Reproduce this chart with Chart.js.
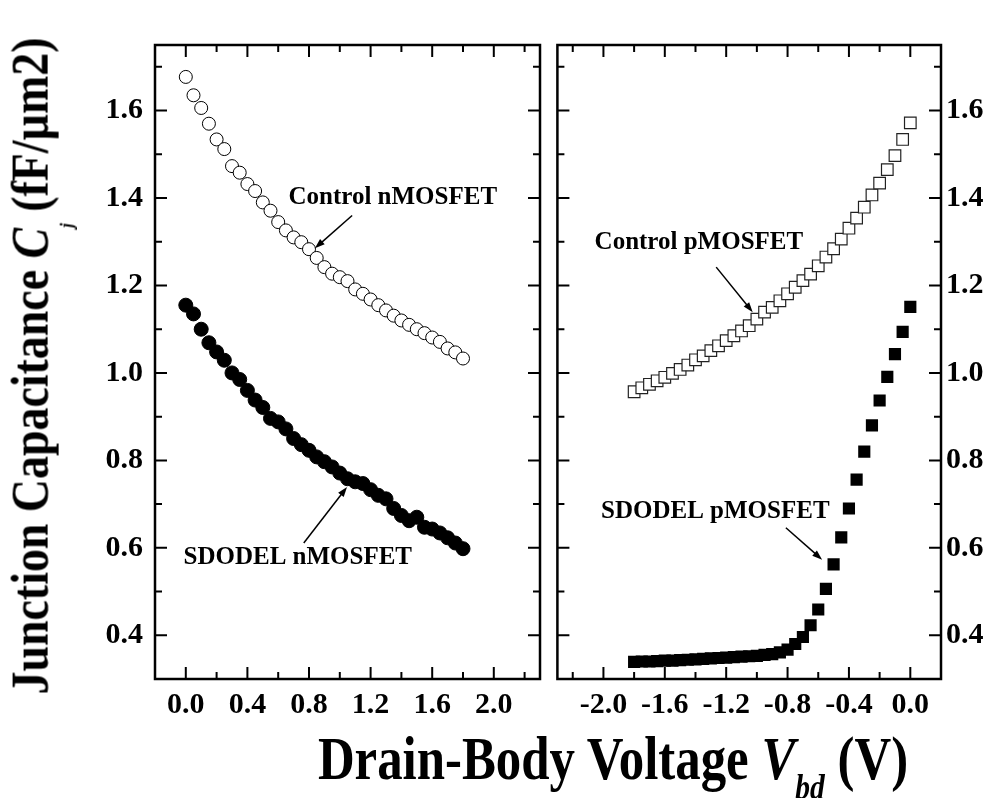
<!DOCTYPE html>
<html>
<head>
<meta charset="utf-8">
<script src="https://cdn.jsdelivr.net/npm/chart.js@4.4.1/dist/chart.umd.min.js"></script>
<style>
body { margin: 0; background: #fff; }
#wrap { position: relative; width: 1001px; height: 798px; overflow: hidden; }
canvas { position: absolute; top: 0; }
#nChart { left: 0; }
#pChart { left: 548px; }
.ttl { position: absolute; font-family: "Liberation Serif", "Times New Roman", serif; font-weight: bold; white-space: nowrap; line-height: 1; color: #000; }
#yTitle { font-size: 53px; left: 35px; top: 366px; transform: translate(-50%, -50%) rotate(-90deg) scaleX(0.866); }
#xTitle { font-size: 62px; left: 613px; top: 727px; transform: translate(-50%, 0) scaleX(0.82); }
#yTitle sub { font-size: 0.36em; vertical-align: -1.3em; line-height: 0; }
#xTitle sub { font-size: 0.58em; vertical-align: -0.55em; line-height: 0; }
</style>
</head>
<body>
<div id="wrap">
  <canvas id="nChart" width="548" height="798"></canvas>
  <canvas id="pChart" width="453" height="798"></canvas>
  <div class="ttl" id="yTitle">Junction Capacitance <i>C</i><sub><i>j</i></sub> (fF/µm2)</div>
  <div class="ttl" id="xTitle">Drain-Body Voltage <i>V</i><sub><i>bd</i></sub> (V)</div>
</div>
<script>
// drain-body voltage sweep (V)
const nVbd = [0.00, 0.05, 0.10, 0.15, 0.20, 0.25, 0.30, 0.35, 0.40, 0.45, 0.50, 0.55, 0.60,
              0.65, 0.70, 0.75, 0.80, 0.85, 0.90, 0.95, 1.00, 1.05, 1.10, 1.15, 1.20, 1.25,
              1.30, 1.35, 1.40, 1.45, 1.50, 1.55, 1.60, 1.65, 1.70, 1.75, 1.80];
const pVbd = [-1.80, -1.75, -1.70, -1.65, -1.60, -1.55, -1.50, -1.45, -1.40, -1.35, -1.30, -1.25, -1.20,
              -1.15, -1.10, -1.05, -1.00, -0.95, -0.90, -0.85, -0.80, -0.75, -0.70, -0.65, -0.60, -0.55,
              -0.50, -0.45, -0.40, -0.35, -0.30, -0.25, -0.20, -0.15, -0.10, -0.05, 0.00];

// junction capacitance (fF/um2)
const ctrlN = [1.677, 1.635, 1.606, 1.570, 1.534, 1.512, 1.473, 1.458, 1.432, 1.416, 1.390, 1.371, 1.345,
               1.326, 1.310, 1.299, 1.283, 1.263, 1.242, 1.227, 1.219, 1.210, 1.191, 1.181, 1.168, 1.155,
               1.143, 1.131, 1.120, 1.110, 1.100, 1.091, 1.081, 1.071, 1.056, 1.047, 1.033];
const sdodelN = [1.155, 1.135, 1.100, 1.069, 1.048, 1.029, 1.000, 0.985, 0.960, 0.938, 0.921, 0.896, 0.888,
                 0.872, 0.850, 0.836, 0.823, 0.808, 0.797, 0.785, 0.771, 0.758, 0.751, 0.747, 0.733, 0.720,
                 0.712, 0.690, 0.674, 0.662, 0.670, 0.647, 0.643, 0.634, 0.623, 0.611, 0.598];
const ctrlP = [0.957, 0.966, 0.974, 0.982, 0.990, 0.999, 1.008, 1.018, 1.030, 1.039, 1.051, 1.062, 1.074,
               1.085, 1.096, 1.108, 1.123, 1.139, 1.150, 1.165, 1.181, 1.196, 1.211, 1.226, 1.245, 1.265,
               1.284, 1.306, 1.331, 1.354, 1.379, 1.407, 1.434, 1.465, 1.497, 1.534, 1.572];
const sdodelP = [0.339, 0.340, 0.340, 0.341, 0.342, 0.342, 0.343, 0.344, 0.345, 0.346, 0.347, 0.348, 0.349,
                 0.350, 0.351, 0.352, 0.353, 0.355, 0.357, 0.361, 0.367, 0.380, 0.396, 0.423, 0.459, 0.506,
                 0.562, 0.624, 0.690, 0.756, 0.820, 0.880, 0.937, 0.991, 1.043, 1.094, 1.151];

// tick labels
const capTicks = [0.4, 0.6, 0.8, 1.0, 1.2, 1.4, 1.6];
const capMinor = [0.5, 0.7, 0.9, 1.1, 1.3, 1.5, 1.7];
const nTicks = [0.0, 0.4, 0.8, 1.2, 1.6, 2.0];
const nMinor = [0.2, 0.6, 1.0, 1.4, 1.8, 2.2];
const pTicks = [-2.0, -1.6, -1.2, -0.8, -0.4, 0.0];
const pMinor = [-2.2, -1.8, -1.4, -1.0, -0.6, -0.2];

const serif = '"Liberation Serif", "Times New Roman", serif';
const tickFont = { family: serif, size: 30, weight: 'bold' };

function pts(xs, ys) {
    return xs.map((v, i) => ({ x: v, y: ys[i] }));
}

// frame, inward ticks on all sides, and the arrow labels
const framePlugin = {
    id: 'frame',
    afterDatasetsDraw(chart, args, opts) {
        const ctx = chart.ctx;
        const a = chart.chartArea;
        const x = chart.scales.x, y = chart.scales.y;
        ctx.save();
        ctx.strokeStyle = '#000';
        ctx.lineWidth = 2;
        ctx.beginPath();
        const xt = (vals, len) => vals.forEach(v => {
            const px = x.getPixelForValue(v);
            ctx.moveTo(px, a.bottom); ctx.lineTo(px, a.bottom - len);
            ctx.moveTo(px, a.top); ctx.lineTo(px, a.top + len);
        });
        const yt = (vals, len) => vals.forEach(v => {
            const py = y.getPixelForValue(v);
            ctx.moveTo(a.left, py); ctx.lineTo(a.left + len, py);
            ctx.moveTo(a.right, py); ctx.lineTo(a.right - len, py);
        });
        xt(opts.xMajor, 12); xt(opts.xMinor, 7);
        yt(capTicks, 12); yt(capMinor, 7);
        ctx.stroke();
        ctx.lineWidth = 2.5;
        ctx.strokeRect(a.left, a.top, a.right - a.left, a.bottom - a.top);

        ctx.fillStyle = '#000';
        ctx.font = 'bold 25px ' + serif;
        ctx.textAlign = 'center';
        ctx.textBaseline = 'middle';
        opts.notes.forEach(n => {
            ctx.fillText(n.text, x.getPixelForValue(n.at[0]), y.getPixelForValue(n.at[1]));
            const x0 = x.getPixelForValue(n.from[0]), y0 = y.getPixelForValue(n.from[1]);
            const x1 = x.getPixelForValue(n.to[0]), y1 = y.getPixelForValue(n.to[1]);
            const ang = Math.atan2(y1 - y0, x1 - x0);
            ctx.lineWidth = 1.5;
            ctx.beginPath();
            ctx.moveTo(x0, y0);
            ctx.lineTo(x1 - 6 * Math.cos(ang), y1 - 6 * Math.sin(ang));
            ctx.stroke();
            ctx.beginPath();
            ctx.moveTo(x1, y1);
            ctx.lineTo(x1 - 10 * Math.cos(ang) + 3.5 * Math.sin(ang), y1 - 10 * Math.sin(ang) - 3.5 * Math.cos(ang));
            ctx.lineTo(x1 - 10 * Math.cos(ang) - 3.5 * Math.sin(ang), y1 - 10 * Math.sin(ang) + 3.5 * Math.cos(ang));
            ctx.closePath();
            ctx.fill();
        });
        ctx.restore();
    }
};

function axisX(min, max, ticks) {
    return {
        type: 'linear', min: min, max: max,
        afterBuildTicks: s => { s.ticks = ticks.map(v => ({ value: v })); },
        afterFit: s => { s.height = 119; },
        grid: { display: false, drawTicks: false },
        border: { display: false },
        ticks: { font: tickFont, color: '#000', padding: 8, maxRotation: 0, autoSkip: false,
                 callback: v => v.toFixed(1) }
    };
}

function axisY(pos, width, pad) {
    return {
        type: 'linear', position: pos, min: 0.3, max: 1.75,
        afterBuildTicks: s => { s.ticks = capTicks.map(v => ({ value: v })); },
        afterFit: s => { s.width = width; },
        grid: { display: false, drawTicks: false },
        border: { display: false },
        ticks: { font: tickFont, color: '#000', padding: pad, autoSkip: false,
                 callback: v => v.toFixed(1) }
    };
}

new Chart(document.getElementById('nChart'), {
    type: 'scatter',
    data: {
        datasets: [
            { label: 'Control nMOSFET', data: pts(nVbd, ctrlN), pointStyle: 'circle', pointRadius: 6.5,
              backgroundColor: '#fff', borderColor: '#000', borderWidth: 1 },
            { label: 'SDODEL nMOSFET', data: pts(nVbd, sdodelN), pointStyle: 'circle', pointRadius: 7,
              backgroundColor: '#000', borderColor: '#000', borderWidth: 1 }
        ]
    },
    options: {
        responsive: false,
        animation: false,
        layout: { padding: { top: 45, right: 7, left: 0, bottom: 0 } },
        plugins: {
            legend: { display: false },
            tooltip: { enabled: false },
            frame: {
                xMajor: nTicks, xMinor: nMinor,
                notes: [
                    { text: 'Control nMOSFET', at: [1.344, 1.400], from: [1.08, 1.36], to: [0.838, 1.285] },
                    { text: 'SDODEL nMOSFET', at: [0.727, 0.577], from: [0.766, 0.611], to: [1.047, 0.739] }
                ]
            }
        },
        scales: { x: axisX(-0.2, 2.3, nTicks), y: axisY('left', 155, 12) }
    },
    plugins: [framePlugin]
});

new Chart(document.getElementById('pChart'), {
    type: 'scatter',
    data: {
        datasets: [
            { label: 'Control pMOSFET', data: pts(pVbd, ctrlP), pointStyle: 'rect', pointRadius: 8.2,
              backgroundColor: '#fff', borderColor: '#222', borderWidth: 1.2 },
            { label: 'SDODEL pMOSFET', data: pts(pVbd, sdodelP), pointStyle: 'rect', pointRadius: 8.6,
              backgroundColor: '#000', borderColor: '#000', borderWidth: 0 }
        ]
    },
    options: {
        responsive: false,
        animation: false,
        layout: { padding: { top: 45, right: 0, left: 7, bottom: 0 } },
        plugins: {
            legend: { display: false },
            tooltip: { enabled: false },
            frame: {
                xMajor: pTicks, xMinor: pMinor,
                notes: [
                    { text: 'Control pMOSFET', at: [-1.378, 1.299], from: [-1.265, 1.242], to: [-1.027, 1.139] },
                    { text: 'SDODEL pMOSFET', at: [-1.271, 0.684], from: [-0.811, 0.646], to: [-0.575, 0.573] }
                ]
            }
        },
        scales: { x: axisX(-2.3, 0.2, pTicks), y: axisY('right', 60, 5) }
    },
    plugins: [framePlugin]
});
</script>
</body>
</html>
